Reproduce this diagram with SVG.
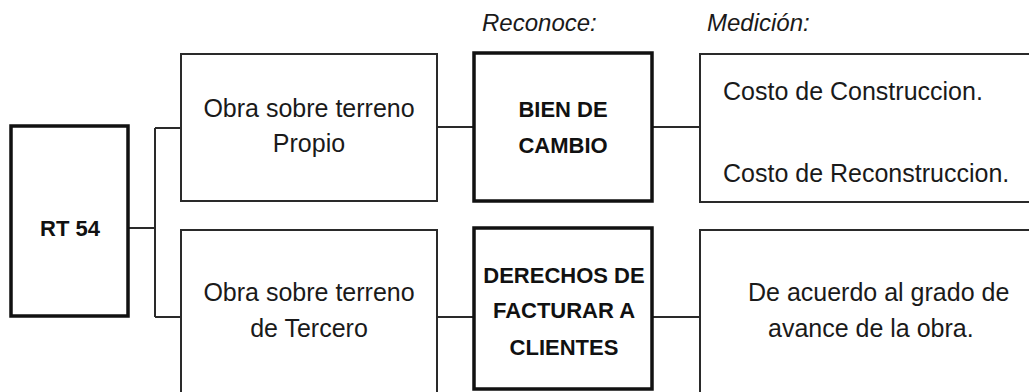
<svg xmlns="http://www.w3.org/2000/svg" width="1029" height="392" viewBox="0 0 1029 392">
<style>
.thin{fill:#fff;stroke:#2a2a2a;stroke-width:2}
.thick{fill:#fff;stroke:#111;stroke-width:3.5}
.ln{fill:none;stroke:#2a2a2a;stroke-width:2}
.t{font-family:"Liberation Sans",Arial,sans-serif;font-size:25px;fill:#1a1a1a}
.b{font-family:"Liberation Sans",Arial,sans-serif;font-size:22px;font-weight:bold;fill:#111}
.i{font-family:"Liberation Sans",Arial,sans-serif;font-size:24px;font-style:italic;fill:#1a1a1a}
.c{text-anchor:middle}
</style>
<rect width="1029" height="392" fill="#fff"/>
<g id="connectors">
<path class="ln" d="M128 228H155M155 128V317M155 128H181M155 317H181"/>
<path class="ln" d="M437 127H473M652 127H700"/>
<path class="ln" d="M437 317H473M652 317H700"/>
</g>
<g id="headers">
<text class="i" x="482" y="31">Reconoce:</text>
<text class="i" x="707" y="31">Medición:</text>
</g>
<g id="rt54">
<rect class="thick" x="11" y="126" width="117" height="190"/>
<text class="b c" x="70" y="236">RT 54</text>
</g>
<g id="obra-propio">
<rect class="thin" x="181" y="54" width="256" height="147"/>
<text class="t c" x="309" y="117">Obra sobre terreno</text>
<text class="t c" x="309" y="152">Propio</text>
</g>
<g id="bien-cambio">
<rect class="thick" x="474" y="53" width="178" height="148"/>
<text class="b c" x="563" y="117">BIEN DE</text>
<text class="b c" x="563" y="153">CAMBIO</text>
</g>
<g id="medicion-1">
<rect class="thin" x="700" y="54" width="340" height="148"/>
<text class="t" x="723" y="100">Costo de Construccion.</text>
<text class="t" x="723" y="182">Costo de Reconstruccion.</text>
</g>
<g id="obra-tercero">
<rect class="thin" x="181" y="230" width="256" height="175"/>
<text class="t c" x="309" y="301">Obra sobre terreno</text>
<text class="t c" x="309" y="337">de Tercero</text>
</g>
<g id="derechos">
<rect class="thick" x="474" y="228" width="178" height="161"/>
<text class="b c" x="564" y="283">DERECHOS DE</text>
<text class="b c" x="564" y="318">FACTURAR A</text>
<text class="b c" x="564" y="355">CLIENTES</text>
</g>
<g id="medicion-2">
<rect class="thin" x="700" y="230" width="340" height="175"/>
<text class="t" x="748" y="301">De acuerdo al grado de</text>
<text class="t" x="768" y="337">avance de la obra.</text>
</g>
</svg>
